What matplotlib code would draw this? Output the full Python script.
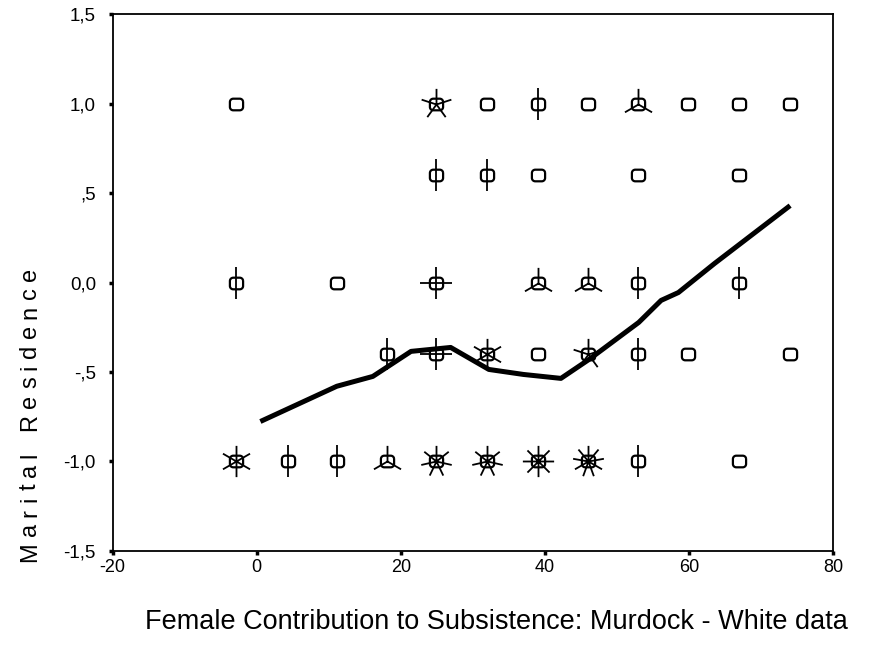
import numpy as np
import matplotlib
matplotlib.use("Agg")
import matplotlib.pyplot as plt
from matplotlib.path import Path

plt.rcParams['font.family'] = ['Liberation Sans', 'DejaVu Sans']

# sunflower points: x, y, number of cases at that spot
pt_x = [-2.9, 24.9, 31.9, 39.0, 46.0, 52.9, 59.9, 66.9, 74.0,
        24.9, 31.9, 39.0, 52.9, 66.9,
        -2.9, 11.1, 24.9, 39.0, 46.0, 52.9, 66.9,
        18.1, 24.9, 31.9, 39.0, 46.0, 52.9, 59.9, 74.0,
        -2.9, 4.3, 11.1, 18.1, 24.9, 31.9, 39.0, 46.0, 52.9, 66.9]
pt_y = [1.0] * 9 + [0.6] * 5 + [0.0] * 7 + [-0.4] * 8 + [-1.0] * 10
pt_n = [1, 5, 1, 2, 1, 3, 1, 1, 1,
        2, 2, 1, 1, 1,
        2, 1, 4, 3, 3, 2, 2,
        2, 4, 6, 1, 5, 2, 1, 1,
        6, 2, 2, 3, 7, 7, 8, 9, 2, 1]

# fit line (lowess)
fit_x = [0.5, 11.1, 16.1, 21.4, 26.9, 32.2, 37.0, 42.2, 46.1, 53.0, 56.1, 58.5, 63.5, 74.0]
fit_y = [-0.777, -0.58, -0.525, -0.385, -0.363, -0.486, -0.514, -0.536, -0.43, -0.223,
         -0.10, -0.056, 0.106, 0.43]

x_ticks = [-20, 0, 20, 40, 60, 80]
y_ticks = [-1.5, -1.0, -0.5, 0.0, 0.5, 1.0, 1.5]
y_ticklabels = ['-1,5', '-1,0', '-,5', '0,0', ',5', '1,0', '1,5']


def roundSquare():
    # rounded box used as the sunflower centre, a bit wider than tall
    r = 0.5
    w, h = 1.0, 0.88
    verts = []
    for cx, cy, a0 in [(w - r, h - r, 0), (-w + r, h - r, 90), (-w + r, -h + r, 180), (w - r, -h + r, 270)]:
        for a in np.linspace(a0, a0 + 90, 8):
            verts.append((cx + r * np.cos(np.radians(a)), cy + r * np.sin(np.radians(a))))
    verts.append(verts[0])
    return Path(verts)


def petals(n):
    verts = []
    codes = []
    for k in range(n):
        a = np.radians(90 + k * 360.0 / n)
        verts += [(0, 0), (np.cos(a), np.sin(a))]
        codes += [Path.MOVETO, Path.LINETO]
    # keep scale fixed for any n
    verts += [(1, 1), (-1, -1)]
    codes += [Path.MOVETO, Path.MOVETO]
    return Path(verts, codes)


fig = plt.figure(figsize=(8.8, 6.45), dpi=100)
ax = fig.add_axes([0.128, 0.146, 0.819, 0.832])

pt_x = np.array(pt_x)
pt_y = np.array(pt_y)
pt_n = np.array(pt_n)

ax.plot(fit_x, fit_y, color='black', lw=3.6, solid_joinstyle='round', solid_capstyle='butt', zorder=2)

for n in range(2, 10):
    sel = pt_n == n
    if sel.any():
        ax.plot(pt_x[sel], pt_y[sel], linestyle='none', marker=petals(n), markersize=22.5,
                markeredgewidth=1.3, markeredgecolor='black', zorder=3)

ax.plot(pt_x, pt_y, linestyle='none', marker=roundSquare(), markersize=9.5,
        markeredgewidth=1.6, markeredgecolor='black', markerfacecolor='none', zorder=4)

ax.set_xlim(-20, 80)
ax.set_ylim(-1.5, 1.5)
ax.set_xticks(x_ticks)
ax.set_xticklabels([str(t) for t in x_ticks], fontsize=13)
ax.set_yticks(y_ticks)
ax.set_yticklabels(y_ticklabels, fontsize=13.5)
ax.tick_params(axis='x', direction='out', length=3, width=2.5, pad=3)
ax.tick_params(axis='y', direction='out', length=3, width=2.5, pad=9)
for s in ax.spines.values():
    s.set_linewidth(1.3)

fig.text(496 / 880, 1 - 622 / 645, 'Female Contribution to Subsistence: Murdock - White data',
         ha='center', va='center', fontsize=19.5)

# letter-spaced y label, placed char by char
label = 'Marital Residence'
fs = 17
extra = 6.5  # px between letters
fig.canvas.draw()
renderer = fig.canvas.get_renderer()
widths = []
for ch in label:
    t = fig.text(0, 0, ch if ch != ' ' else 'n', fontsize=fs)
    widths.append(t.get_window_extent(renderer).width * (0.6 if ch == ' ' else 1.0))
    t.remove()
total = sum(widths) + extra * (len(label) - 1)
cy = 415
y = (645 - cy) - total / 2.0
for ch, w in zip(label, widths):
    fig.text(30 / 880, (y + w / 2.0) / 645, ch, rotation=90, fontsize=fs,
             ha='center', va='center')
    y += w + extra

fig.savefig('out.png', dpi=100)
